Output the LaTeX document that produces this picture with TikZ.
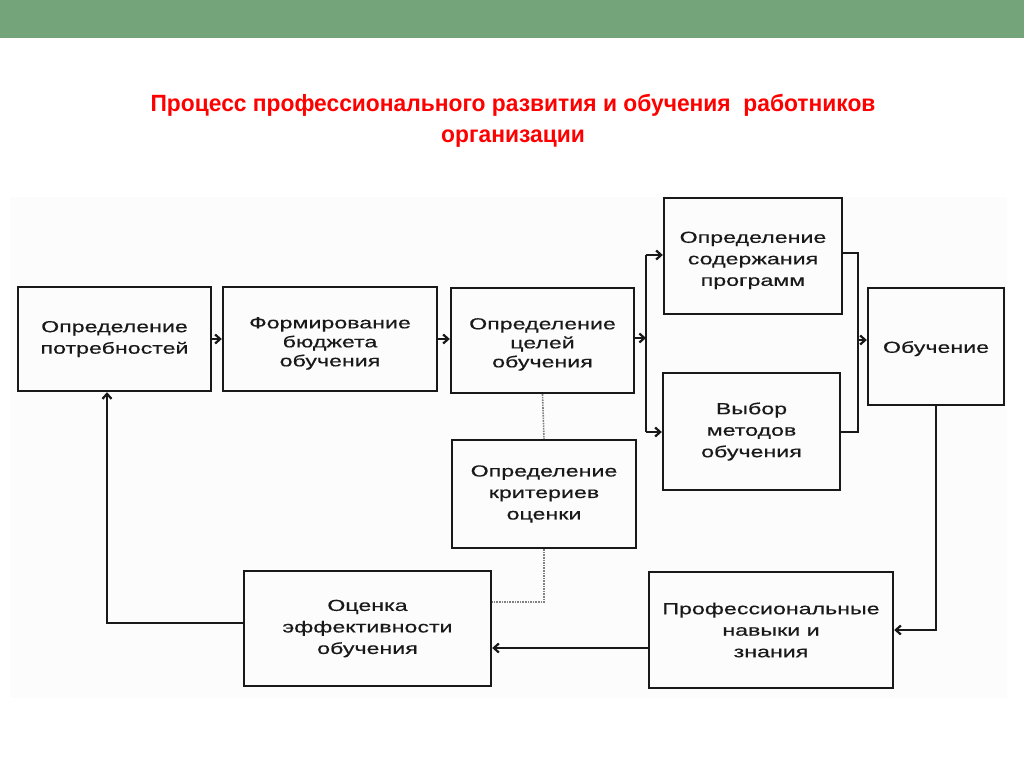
\documentclass[tikz,border=0pt]{standalone}
\usepackage{fontspec}
\setmainfont{Liberation Sans}
\newfontfamily\boxfont[FakeStretch=1.45,FakeBold=0.4]{Liberation Sans}
\newfontfamily\titlefont[FakeStretch=0.97]{Liberation Sans}
\usetikzlibrary{arrows.meta}
\definecolor{bar}{RGB}{116,165,122}
\definecolor{ink}{RGB}{25,25,25}
\newcommand{\dn}[1]{\rule{0pt}{#1}}
\tikzset{
  blk/.style={draw=ink, line width=2.4pt, rectangle, inner sep=0pt, align=center,
    font=\boxfont\fontsize{16}{21.5}\selectfont, text=ink},
  tight/.style={font=\boxfont\fontsize{16}{19}\selectfont},
  arr/.style={draw=ink, line width=2.2pt, -{Straight Barb[length=5pt,width=9pt]}},
  ln/.style={draw=ink, line width=2.2pt},
  dot/.style={draw=gray, line width=1.6pt, densely dotted}
}
\begin{document}
\begin{tikzpicture}[x=1pt,y=-1pt]
\useasboundingbox (0,0) rectangle (1024,767);
\fill[bar] (0,0) rectangle (1024,38);
\fill[black!1] (10,197) rectangle (1007,698);
\node[font=\titlefont\bfseries\fontsize{23.5}{31}\selectfont, text=red, align=center] (title) at (513,121)
  {Процесс профессионального развития и обучения \ работников\\организации};

\node[blk, minimum width=193pt, minimum height=104pt] (b1) at (114.5,339) {Определение\\потребностей};
\node[blk, tight, minimum width=214pt, minimum height=104pt] (b2) at (330,339) {\dn{20pt}Формирование\\бюджета\\обучения};
\node[blk, tight, minimum width=183pt, minimum height=105pt] (b3) at (542.5,340.5) {\dn{19pt}Определение\\целей\\обучения};
\node[blk, minimum width=178pt, minimum height=116pt] (b4) at (753,256) {\dn{20pt}Определение\\содержания\\программ};
\node[blk, minimum width=177pt, minimum height=117pt] (b5) at (751.5,431.5) {Выбор\\методов\\обучения};
\node[blk, minimum width=136pt, minimum height=117pt] (b6) at (936,346.5) {\dn{16pt}Обучение};
\node[blk, minimum width=184pt, minimum height=108pt] (b7) at (544,494) {Определение\\критериев\\оценки};
\node[blk, minimum width=247pt, minimum height=115pt] (b8) at (367.5,628.5) {Оценка\\эффективности\\обучения};
\node[blk, minimum width=244pt, minimum height=116pt] (b9) at (771,630) {Профессиональные\\навыки и\\знания};

\coordinate (s1t) at (646,255);
\coordinate (s1b) at (646,432);
\coordinate (s1m) at (646,338);
\coordinate (s2t) at (858,253);
\coordinate (s2b) at (858,432);
\coordinate (s2m) at (858,340);

\draw[arr] (b1.east) -- (b2.west);
\draw[arr] (b2.east) -- (b2.east -| b3.west);
\draw[arr] (s1m -| b3.east) -- (s1m);
\draw[ln] (s1t) -- (s1b);
\draw[arr] (s1t) -- (s1t -| b4.west);
\draw[arr] (s1b) -- (s1b -| b5.west);
\draw[ln] (s2t -| b4.east) -- (s2t) -- (s2b) -- (s2b -| b5.east);
\draw[arr] (s2m) -- (s2m -| b6.west);
\draw[arr] (b6.south) |- (b9.east);
\draw[arr] ([yshift=-18pt]b9.west) -- ([yshift=-18pt]b9.west -| b8.east);
\draw[arr] ([yshift=5.5pt]b8.west) -| ([xshift=-7.5pt]b1.south);
\draw[dot] (b3.south) -- (b7.north);
\draw[dot] (b7.south) |- ([yshift=26.5pt]b8.east);
\end{tikzpicture}
\end{document}
